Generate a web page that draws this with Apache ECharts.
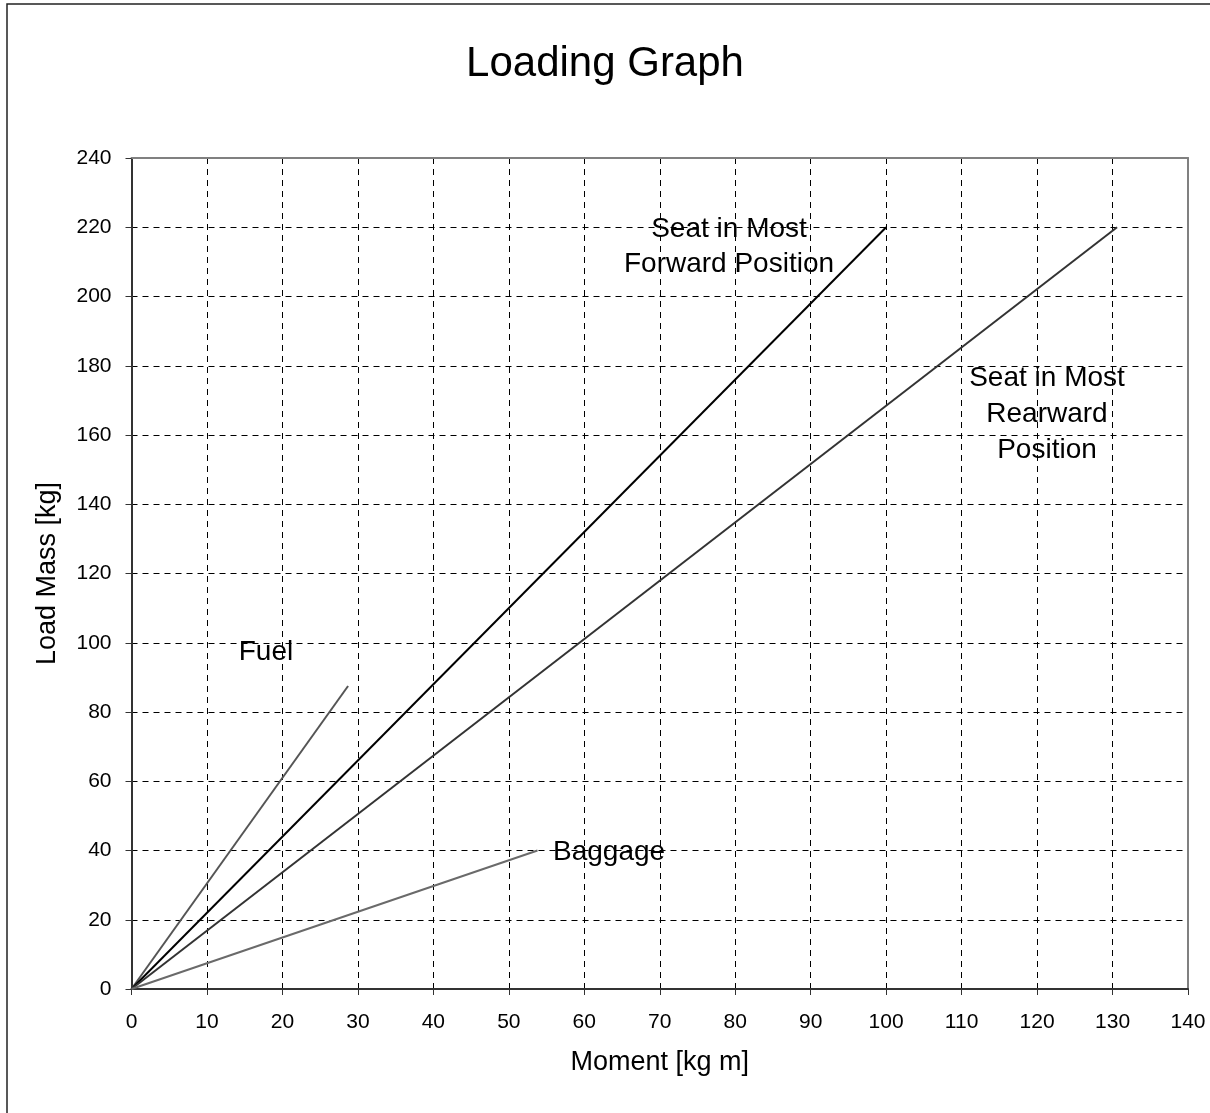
<!DOCTYPE html>
<html><head><meta charset="utf-8">
<script src="https://cdn.jsdelivr.net/npm/echarts@6/dist/echarts.min.js"></script>
<style>html,body{margin:0;padding:0;background:#fff}#c{width:1210px;height:1113px}</style>
</head><body><div id="c"></div>
<script>
const xTicks = [0,10,20,30,40,50,60,70,80,90,100,110,120,130,140];
const yTicks = [0,20,40,60,80,100,120,140,160,180,200,220,240];
const fuel = [[0,0],[28.7,87.5]];
const forward = [[0,0],[100,220]];
const rearward = [[0,0],[130.6,220]];
const baggage = [[0,0],[53.8,40]];
const FONT = '"Liberation Sans", Arial, sans-serif';

const chart = echarts.init(document.getElementById('c'), null, {renderer:'canvas'});
const lineSeries = (name, data, color) => ({
  name, type:'line', data, symbol:'none', silent:true,
  lineStyle:{color, width:2}, z:3
});
const frameAxis = {min:0, show:true, axisLine:{show:true, onZero:false, lineStyle:{color:'#808080', width:2}},
  axisTick:{show:false}, axisLabel:{show:false}, splitLine:{show:false}};
chart.setOption({
  animation:false,
  backgroundColor:'#fff',
  title:{text:'Loading Graph', left:'center', top:38,
    textStyle:{fontFamily:FONT, fontSize:42, fontWeight:'normal', color:'#000'}},
  grid:{left:131.5, right:22, top:158, bottom:124},
  xAxis:[{type:'value', min:xTicks[0], max:xTicks[xTicks.length-1], interval:xTicks[1]-xTicks[0],
    name:'Moment [kg m]', nameLocation:'middle', nameGap:60,
    nameTextStyle:{fontFamily:FONT, fontSize:27, color:'#000'},
    axisLine:{show:true, onZero:false, lineStyle:{color:'#333', width:2}},
    axisTick:{show:true, length:6, lineStyle:{color:'#333', width:1}},
    axisLabel:{fontFamily:FONT, fontSize:21, color:'#000', margin:23},
    splitLine:{show:true, lineStyle:{color:'#000', width:1, type:[6,5]}}},
    Object.assign({type:'value', position:'top', max:140}, frameAxis)],
  yAxis:[{type:'value', min:yTicks[0], max:yTicks[yTicks.length-1], interval:yTicks[1]-yTicks[0],
    name:'Load Mass [kg]', nameLocation:'middle', nameGap:70, nameRotate:90,
    nameTextStyle:{fontFamily:FONT, fontSize:27, color:'#000'},
    axisLine:{show:true, onZero:false, lineStyle:{color:'#333', width:2}},
    axisTick:{show:true, length:6, lineStyle:{color:'#333', width:1}},
    axisLabel:{fontFamily:FONT, fontSize:21, color:'#000', margin:20},
    splitLine:{show:true, lineStyle:{color:'#000', width:1, type:[6,5]}}},
    Object.assign({type:'value', position:'right', max:240}, frameAxis)],
  series:[
    lineSeries('Fuel', fuel, '#555555'),
    lineSeries('Seat in Most Forward Position', forward, '#000000'),
    lineSeries('Seat in Most Rearward Position', rearward, '#333333'),
    lineSeries('Baggage', baggage, '#6a6a6a')
  ],
  graphic:[
    {type:'rect', shape:{x:7, y:4, width:1220, height:1130}, style:{fill:'none', stroke:'#222', lineWidth:1.5}, silent:true},
    {type:'text', x:266, y:652, style:{text:'Fuel', font:'28px '+FONT, fill:'#000', align:'center', verticalAlign:'middle'}, z:10},
    {type:'text', x:553, y:852, style:{text:'Baggage', font:'28px '+FONT, fill:'#000', align:'left', verticalAlign:'middle'}, z:10},
    {type:'text', x:729, y:247, style:{text:'Seat in Most\nForward Position', font:'28px '+FONT, lineHeight:35, fill:'#000', align:'center', verticalAlign:'middle'}, z:10},
    {type:'text', x:1047, y:414, style:{text:'Seat in Most\nRearward\nPosition', font:'28px '+FONT, lineHeight:36, fill:'#000', align:'center', verticalAlign:'middle'}, z:10}
  ]
});
</script></body></html>
